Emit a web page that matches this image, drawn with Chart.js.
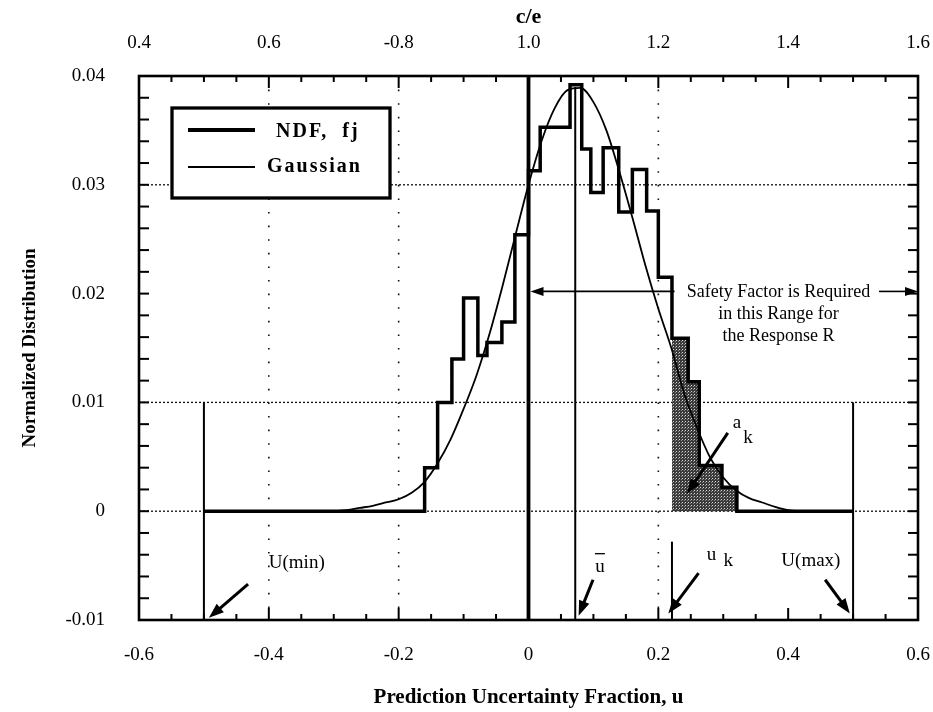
<!DOCTYPE html>
<html>
<head>
<meta charset="utf-8">
<script src="https://cdn.jsdelivr.net/npm/chart.js@4/dist/chart.umd.min.js"></script>
<style>
  html, body { margin: 0; padding: 0; background: #ffffff; }
  #wrap { width: 933px; height: 712px; position: relative; }
</style>
</head>
<body>
<div id="wrap"><canvas id="c" width="933" height="712"></canvas></div>
<script>
// ---------------- data ----------------
const xTickLabels  = ['-0.6', '-0.4', '-0.2', '0', '0.2', '0.4', '0.6'];
const ceTickLabels = ['0.4', '0.6', '-0.8', '1.0', '1.2', '1.4', '1.6'];
const yTickLabels  = ['-0.01', '0', '0.01', '0.02', '0.03', '0.04'];

// NDF histogram: left edge of each step (u) and its height
const ndfEdges   = [-0.5, -0.16, -0.14, -0.118, -0.10, -0.078, -0.064, -0.041, -0.021, 0,
                    0.018, 0.064, 0.082, 0.096, 0.115, 0.139, 0.16, 0.182, 0.20, 0.221,
                    0.246, 0.263, 0.298, 0.321, 0.5];
const ndfHeights = [0, 0.004, 0.010, 0.014, 0.0196, 0.0143, 0.0155, 0.0174, 0.0254, 0.0313,
                    0.0353, 0.0392, 0.0333, 0.0293, 0.0334, 0.0275, 0.0314, 0.0276, 0.0215, 0.0159,
                    0.0119, 0.0042, 0.0022, 0, 0];

// Gaussian curve
const gaussU = [-0.30, -0.28, -0.26, -0.24, -0.22, -0.20, -0.18, -0.16, -0.14, -0.12,
                -0.10, -0.08, -0.06, -0.04, -0.02, 0, 0.02, 0.04, 0.06, 0.08,
                0.10, 0.12, 0.14, 0.16, 0.18, 0.20, 0.22, 0.24, 0.26, 0.28,
                0.30, 0.32, 0.34, 0.36, 0.38, 0.40, 0.42];
const gaussY = [0, 0.0001, 0.0003, 0.0005, 0.0008, 0.0011, 0.0017, 0.0027, 0.0044, 0.0066,
                0.0094, 0.0125, 0.0163, 0.0207, 0.0254, 0.0300, 0.0340, 0.0370, 0.0387, 0.0389,
                0.0376, 0.0350, 0.0312, 0.0270, 0.0226, 0.0186, 0.0150, 0.0108, 0.0076, 0.0049,
                0.0031, 0.0019, 0.0012, 0.0008, 0.0004, 0.0001, 0];

// marked values of u
const uMin = -0.5, uMax = 0.5, uBar = 0.072, uK = 0.221;
const uBarTop = 0.039;      // u-bar line reaches the peak
const uLimTop = 0.01;       // U(min)/U(max) lines reach 0.01
const uKTop = -0.0028;      // u_k line top

// text annotations (data coordinates)
const safetyLines = ['Safety Factor is Required', 'in this Range for', 'the Response R'];
const safetyU = 0.385;
const safetyY = [0.0201, 0.0181, 0.0161];
const safetyArrowY = 0.0202;
const safetyGap = [0.225, 0.540];

const callouts = [
  { text: 'U(min)', at: [-0.357, -0.0048], from: [-0.432, -0.0067], to: [-0.4923, -0.0098] },
  { text: 'u', bar: true, at: [0.110, -0.0051], from: [0.0994, -0.0063], to: [0.0772, -0.0096] },
  { text: 'u', at: [0.282, -0.0040], sub: 'k', subAt: [0.3076, -0.0046], from: [0.262, -0.0057], to: [0.2154, -0.0094] },
  { text: 'U(max)', at: [0.435, -0.0046], from: [0.457, -0.0063], to: [0.495, -0.0094] },
  { text: 'a', at: [0.321, 0.0081], sub: 'k', subAt: [0.338, 0.0067], from: [0.307, 0.0072], to: [0.244, 0.0016] }
];

const dottedY = [0, 0.01, 0.03];
const dottedU = [-0.4, -0.2, 0.2];

// ---------------- build datasets ----------------
const ndfPts = ndfEdges.map((u, i) => ({ x: u, y: ndfHeights[i] }));
const gaussPts = gaussU.map((u, i) => ({ x: u, y: gaussY[i] }));
const shadeStart = ndfEdges.findIndex(u => u >= uK);
let shadeEnd = shadeStart;
while (ndfHeights[shadeEnd] > 0) shadeEnd++;
const shadePts = [{ x: ndfEdges[shadeStart], y: 0 }].concat(ndfPts.slice(shadeStart, shadeEnd + 1));

// stipple pattern for the shaded area
const pc = document.createElement('canvas');
pc.width = 3; pc.height = 3;
const pctx = pc.getContext('2d');
pctx.fillStyle = '#3a3a3a'; pctx.fillRect(0, 0, 3, 3);
pctx.fillStyle = '#d8d8d8'; pctx.fillRect(1, 1, 1, 1);
pctx.fillStyle = '#8a8a8a'; pctx.fillRect(0, 2, 1, 1);
const stipple = document.getElementById('c').getContext('2d').createPattern(pc, 'repeat');

const FONT = 'Liberation Serif';

function seg(ctx, x1, y1, x2, y2, w, dash) {
  ctx.save();
  ctx.beginPath();
  ctx.lineWidth = w;
  ctx.setLineDash(dash || []);
  ctx.moveTo(x1, y1); ctx.lineTo(x2, y2);
  ctx.stroke();
  ctx.restore();
}
function arrow(ctx, x1, y1, x2, y2, w, hl, hw) {
  const a = Math.atan2(y2 - y1, x2 - x1);
  const bx = x2 - hl * Math.cos(a), by = y2 - hl * Math.sin(a);
  seg(ctx, x1, y1, bx + 2 * Math.cos(a), by + 2 * Math.sin(a), w);
  ctx.save();
  ctx.beginPath();
  ctx.moveTo(x2, y2);
  ctx.lineTo(bx + hw / 2 * Math.sin(a), by - hw / 2 * Math.cos(a));
  ctx.lineTo(bx - hw / 2 * Math.sin(a), by + hw / 2 * Math.cos(a));
  ctx.closePath();
  ctx.fill();
  ctx.restore();
}

const decor = {
  id: 'decor',
  beforeDatasetsDraw(chart) {
    const ctx = chart.ctx, ca = chart.chartArea;
    const X = v => chart.scales.x.getPixelForValue(v);
    const Y = v => chart.scales.y.getPixelForValue(v);
    ctx.save();
    ctx.strokeStyle = '#111';
    ctx.fillStyle = '#000';
    dottedY.forEach(v => seg(ctx, ca.left, Y(v), ca.right, Y(v), 1.3, [2, 2]));
    dottedU.forEach(u => seg(ctx, X(u), ca.top, X(u), ca.bottom, 1.6, [1.6, 12]));
    ctx.strokeStyle = '#000';
    seg(ctx, X(0), ca.top, X(0), ca.bottom, 3.8);
    seg(ctx, X(uBar), Y(uBarTop), X(uBar), ca.bottom, 2);
    seg(ctx, X(uMin), Y(uLimTop), X(uMin), ca.bottom, 2);
    seg(ctx, X(uMax), Y(uLimTop), X(uMax), ca.bottom, 2);
    seg(ctx, X(uK), Y(uKTop), X(uK), ca.bottom, 2);
    ctx.restore();
  },
  afterDatasetsDraw(chart) {
    const ctx = chart.ctx, ca = chart.chartArea;
    const X = v => chart.scales.x.getPixelForValue(v);
    const Y = v => chart.scales.y.getPixelForValue(v);
    ctx.save();
    ctx.strokeStyle = '#000';
    ctx.fillStyle = '#000';

    // frame
    ctx.lineWidth = 2.6;
    ctx.strokeRect(ca.left, ca.top, ca.right - ca.left, ca.bottom - ca.top);

    // inward ticks
    for (let i = -12; i <= 12; i++) {
      const x = X(i * 0.05);
      const len = (i % 4 === 0) ? 12 : 6;
      seg(ctx, x, ca.bottom, x, ca.bottom - len, 2);
      seg(ctx, x, ca.top, x, ca.top + len, 2);
    }
    for (let j = -5; j <= 20; j++) {
      const y = Y(j * 0.002);
      seg(ctx, ca.left, y, ca.left + 10, y, 2);
      seg(ctx, ca.right, y, ca.right - 10, y, 2);
    }

    // legend box
    const lg = { x: ca.left + 33, y: ca.top + 32, w: 218, h: 90 };
    ctx.fillStyle = '#fff';
    ctx.fillRect(lg.x, lg.y, lg.w, lg.h);
    ctx.lineWidth = 3.3;
    ctx.strokeRect(lg.x, lg.y, lg.w, lg.h);
    ctx.fillStyle = '#000';
    const ds = chart.data.datasets;
    seg(ctx, lg.x + 16, lg.y + 22, lg.x + 83, lg.y + 22, ds[0].borderWidth + 0.5);
    seg(ctx, lg.x + 16, lg.y + 59, lg.x + 83, lg.y + 59, ds[1].borderWidth);
    ctx.font = 'bold 20px ' + FONT;
    ctx.textAlign = 'left';
    ctx.textBaseline = 'middle';
    ctx.letterSpacing = '2px';
    ctx.fillText(ds[0].label, lg.x + 104, lg.y + 24);
    ctx.fillText(ds[1].label, lg.x + 95, lg.y + 59);
    ctx.letterSpacing = '0px';

    // safety-factor range arrow and text
    arrow(ctx, X(safetyGap[0]), Y(safetyArrowY), X(0) + 2, Y(safetyArrowY), 1.6, 13, 9);
    arrow(ctx, X(safetyGap[1]), Y(safetyArrowY), ca.right, Y(safetyArrowY), 1.6, 13, 9);
    ctx.font = '18px ' + FONT;
    ctx.textAlign = 'center';
    safetyLines.forEach((t, i) => ctx.fillText(t, X(safetyU), Y(safetyY[i])));

    // callouts
    ctx.font = '19px ' + FONT;
    callouts.forEach(c => {
      arrow(ctx, X(c.from[0]), Y(c.from[1]), X(c.to[0]), Y(c.to[1]), 3, 15, 11);
      ctx.textAlign = 'center';
      ctx.fillText(c.text, X(c.at[0]), Y(c.at[1]));
      if (c.sub) ctx.fillText(c.sub, X(c.subAt[0]), Y(c.subAt[1]));
      if (c.bar) {
        const bx = X(c.at[0]), by = Y(c.at[1]) - 13;
        seg(ctx, bx - 5, by, bx + 5, by, 1.3);
      }
    });
    ctx.restore();
  }
};

const tickFont = { family: FONT, size: 19 };

new Chart(document.getElementById('c'), {
  type: 'line',
  data: {
    datasets: [
      { label: 'NDF,  fj', data: ndfPts, stepped: 'before', borderColor: '#000', borderWidth: 3.5,
        pointRadius: 0, fill: false, borderJoinStyle: 'miter' },
      { label: 'Gaussian', data: gaussPts, borderColor: '#000', borderWidth: 1.8, pointRadius: 0,
        cubicInterpolationMode: 'monotone', fill: false },
      { label: 'a_k', data: shadePts, stepped: 'before', borderColor: 'rgba(0,0,0,0)', borderWidth: 0,
        backgroundColor: stipple, fill: 'origin', pointRadius: 0 }
    ]
  },
  options: {
    responsive: false,
    animation: false,
    devicePixelRatio: 1,
    layout: { padding: { left: 0, right: 15, top: 0, bottom: 0 } },
    plugins: { legend: { display: false }, tooltip: { enabled: false } },
    scales: {
      x: {
        type: 'linear', position: 'bottom', min: -0.6, max: 0.6,
        grid: { display: false }, border: { display: false },
        ticks: { stepSize: 0.2, autoSkip: false, maxRotation: 0, padding: 16, color: '#000', font: tickFont,
                 callback: v => xTickLabels[Math.round((v + 0.6) / 0.2)] },
        title: { display: true, text: 'Prediction Uncertainty Fraction, u', color: '#000',
                 font: { family: FONT, size: 21, weight: 'bold' }, padding: { top: 0, bottom: 2 } },
        afterFit: s => { s.height = 92; s.paddingLeft = 0; s.paddingRight = 0; }
      },
      x2: {
        type: 'linear', position: 'top', min: 0.4, max: 1.6, display: true,
        grid: { display: false }, border: { display: false },
        ticks: { stepSize: 0.2, autoSkip: false, maxRotation: 0, padding: 14, color: '#000', font: tickFont,
                 callback: v => ceTickLabels[Math.round((v - 0.4) / 0.2)] },
        title: { display: true, text: 'c/e', color: '#000', font: { family: FONT, size: 22, weight: 'bold' },
                 padding: { top: 4, bottom: 0 } },
        afterFit: s => { s.height = 76; s.paddingLeft = 0; s.paddingRight = 0; }
      },
      y: {
        type: 'linear', min: -0.01, max: 0.04,
        grid: { display: false }, border: { display: false },
        ticks: { stepSize: 0.01, autoSkip: false, padding: 26, color: '#000', font: tickFont,
                 callback: v => yTickLabels[Math.round((v + 0.01) / 0.01)] },
        title: { display: true, text: 'Normalized Distribution', color: '#000',
                 font: { family: FONT, size: 19, weight: 'bold' }, padding: { top: 19, bottom: 0 } },
        afterFit: s => { s.width = 139; s.paddingTop = 0; s.paddingBottom = 0; }
      }
    }
  },
  plugins: [decor]
});
</script>
</body>
</html>
